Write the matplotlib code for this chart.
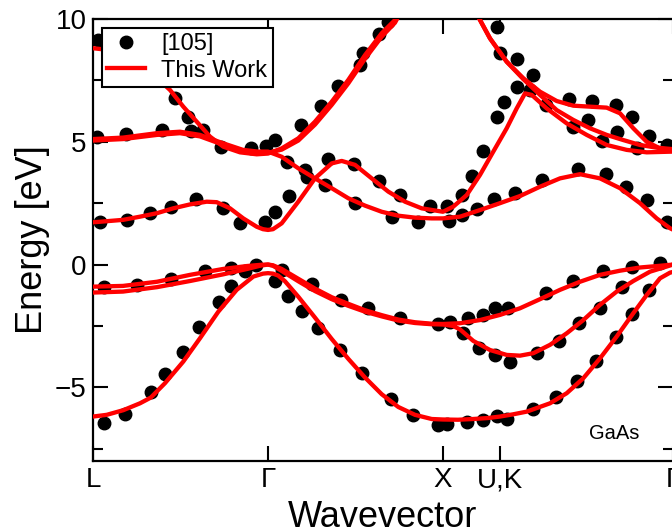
import matplotlib
matplotlib.use("Agg")
import matplotlib.pyplot as plt
from matplotlib.ticker import MultipleLocator, FixedLocator

plt.rcParams['font.family'] = ['Liberation Sans', 'DejaVu Sans']

# k-path positions of the high-symmetry points (L - Gamma - X - U,K - Gamma)
kpoint_pos = [0, 175, 350, 407, 580]
kpoint_labels = ['L', 'Γ', 'X', 'U,K', 'Γ']

# ---- calculated bands ("This Work"), energies in eV ----
so_k = [0, 13.7, 30.3, 47, 57.7, 72, 90.3, 107, 125.3, 143.7, 160.3, 170, 175, 180, 185.3, 192,
        205.3, 222, 238.7, 255.3, 272, 288.7, 305.3, 322, 338.7, 350, 365, 380, 395, 407, 420,
        433.7, 457, 473.7, 490.3, 507, 523.7, 540.3, 553.7, 567, 577, 580]
so_E = [-6.19, -6.12, -5.93, -5.65, -5.42, -4.83, -3.95, -3.00, -1.92, -1.03, -0.49, -0.37, -0.35,
        -0.37, -0.45, -0.68, -1.31, -2.16, -3.03, -3.84, -4.60, -5.28, -5.80, -6.12, -6.29, -6.31,
        -6.32, -6.29, -6.25, -6.19, -6.10, -5.99, -5.65, -5.24, -4.63, -3.82, -2.93, -1.98, -1.24,
        -0.56, -0.33, -0.30]

lh_k = [0, 30, 64, 97, 130, 154, 168, 175, 180, 188.7, 205.3, 222, 238.7, 255.3, 272, 288.7,
        305.3, 322, 338.7, 350, 360, 367, 380.3, 397, 413.7, 427, 440.3, 457, 473.7, 490.3, 507,
        523.7, 540.3, 557, 573.7, 580]
lh_E = [-1.14, -1.10, -0.92, -0.67, -0.40, -0.18, -0.04, 0.0, -0.05, -0.26, -0.68, -1.08, -1.41,
        -1.68, -1.92, -2.11, -2.28, -2.38, -2.43, -2.44, -2.50, -2.64, -3.11, -3.48, -3.68, -3.71,
        -3.61, -3.27, -2.80, -2.26, -1.64, -1.10, -0.67, -0.29, -0.08, 0.0]

hh_k = [0, 30, 64, 97, 130, 154, 168, 175, 180, 188.7, 205.3, 222, 238.7, 255.3, 272, 288.7,
        305.3, 322, 338.7, 350, 367, 387, 407, 427, 447, 467, 487, 507, 527, 547, 567, 580]
hh_E = [-0.90, -0.87, -0.70, -0.42, -0.18, -0.06, -0.01, 0.0, -0.03, -0.18, -0.58, -0.98, -1.33,
        -1.60, -1.86, -2.06, -2.24, -2.35, -2.41, -2.42, -2.39, -2.26, -2.05, -1.78, -1.41, -1.03,
        -0.70, -0.42, -0.25, -0.12, -0.05, 0.0]

c1_k = [0, 30, 47, 63.7, 80.3, 97, 113.7, 123.7, 137, 150.3, 163.7, 170, 175, 180, 188.7, 205.3,
        222, 238.7, 248.7, 262, 278.7, 295.3, 312, 328.7, 350, 360.3, 373.7, 387, 400.3, 413.7,
        423.7, 432, 438.7, 453.7, 473.7, 493.7, 513.7, 533.7, 553.7, 580]
c1_E = [1.72, 1.82, 1.95, 2.09, 2.29, 2.45, 2.56, 2.54, 2.29, 1.88, 1.54, 1.44, 1.41, 1.44, 1.68,
        2.56, 3.51, 4.12, 4.22, 4.06, 3.51, 2.97, 2.56, 2.29, 2.15, 2.36, 2.83, 3.65, 4.60, 5.55,
        6.36, 6.97, 6.91, 6.36, 5.75, 5.28, 4.87, 4.67, 4.57, 4.60]

c2_k = [0, 30, 64, 87, 107, 130, 150, 165, 175, 188.7, 205.3, 222, 238.7, 255.3, 272, 288.7,
        305.3, 322, 338.7, 350, 367, 387, 407, 427, 447, 467, 487, 507, 527, 547, 563.7, 577, 580]
c2_E = [5.11, 5.17, 5.35, 5.41, 5.28, 4.94, 4.67, 4.60, 4.60, 4.39, 3.92, 3.51, 3.11, 2.70, 2.40,
        2.15, 1.99, 1.91, 1.88, 1.88, 1.95, 2.22, 2.50, 2.79, 3.17, 3.51, 3.68, 3.51, 3.11, 2.50,
        1.88, 1.48, 1.42]

c3_k = [0, 30, 64, 87, 107, 130, 150, 165, 175, 188.7, 205.3, 222, 238.7, 255.3, 272, 288.7, 302, 308]
c3_E = [5.05, 5.11, 5.28, 5.35, 5.22, 4.88, 4.63, 4.56, 4.55, 4.68, 5.05, 5.70, 6.50, 7.38, 8.38,
        9.28, 9.85, 10.3]

c4_k = [0, 20, 40, 60, 77, 90.3, 103.7, 117, 130.3, 147, 163.7, 175, 188.7, 205.3, 222, 238.7,
        255.3, 272, 288.7, 302, 306]
c4_E = [8.81, 8.72, 8.35, 7.75, 7.11, 6.43, 5.82, 5.21, 4.80, 4.57, 4.49, 4.52, 4.73, 5.14, 5.82,
        6.63, 7.52, 8.53, 9.42, 9.96, 10.2]

c5_k = [383, 387, 397, 413.7, 430.3, 447, 463.7, 480.3, 497, 513.7, 527, 540.3, 553.7, 567, 580]
c5_E = [10.3, 9.96, 9.21, 8.26, 7.59, 7.04, 6.66, 6.47, 6.43, 6.39, 6.16, 5.55, 5.00, 4.73, 4.65]

c6_k = [383, 387, 397, 413.7, 430.3, 447, 463.7, 480.3, 497, 513.7, 530.3, 547, 563.7, 580]
c6_E = [10.3, 9.96, 9.21, 8.26, 7.55, 6.91, 6.29, 5.89, 5.55, 5.28, 5.07, 4.87, 4.76, 4.70]

bands = [(so_k, so_E), (lh_k, lh_E), (hh_k, hh_E), (c1_k, c1_E), (c2_k, c2_E),
         (c3_k, c3_E), (c4_k, c4_E), (c5_k, c5_E), (c6_k, c6_E)]

# ---- reference data [105] ----
ref_LG_k = [5, 82, 95.3, 4, 33, 68.7, 98, 110, 127.5, 158, 173,
            7, 33.7, 56.5, 78, 103, 130.3, 147.3, 171.5,
            11, 43.5, 77.5, 112, 138, 152, 162.5,
            10.5, 32, 58, 71.5, 90, 106.3, 125.6, 137.5]
ref_LG_E = [9.14, 6.79, 6.02, 5.21, 5.33, 5.50, 5.43, 5.48, 4.77, 4.74, 4.82,
            1.75, 1.82, 2.09, 2.36, 2.65, 2.29, 1.68, 1.74,
            -0.92, -0.82, -0.58, -0.27, -0.12, -0.28, 0.0,
            -6.46, -6.07, -5.21, -4.45, -3.56, -2.54, -1.51, -0.87]

ref_GX_k = [182, 193.5, 208, 228, 244.7, 267, 270.3, 286, 295.3,
            212, 213.7, 232, 262, 299.3, 325.3,
            235.3, 261.3, 286, 307, 336.5,
            182, 196,
            188.7, 218.7, 248, 275.3, 307, 345.3,
            182, 194.7, 208.7, 224.7, 247, 269.3, 298, 320.3, 345.3]
ref_GX_E = [5.07, 4.19, 5.70, 6.47, 7.28, 8.13, 8.60, 9.38, 9.86,
            3.85, 3.58, 3.24, 2.51, 1.95, 1.73,
            4.30, 4.08, 3.42, 2.83, 2.37,
            2.15, 2.81,
            -0.22, -0.80, -1.44, -1.75, -2.19, -2.42,
            -0.67, -1.27, -1.89, -2.57, -3.48, -4.43, -5.47, -6.12, -6.53]

ref_XG_k = [353.7, 356.3, 368.7, 368.7, 384.3, 379.3, 390.3, 404.3, 411.3, 423.7, 437, 401.3, 422,
            449.3, 485.3, 512.7, 532.7, 553.7, 574.3,
            403.5, 407, 423.7, 440, 453, 476.3, 480.3, 498.7, 495.3, 522.7, 523.7, 538.7, 509.3,
            543.7, 556.3, 573.7,
            357, 374.7, 390.3, 402, 415.3, 453, 479.7, 509.7, 538.7, 567,
            370.3, 386, 402, 417, 443.7, 466.3, 486.3, 507, 529.3,
            353.7, 373.7, 390.3, 404.3, 413.7, 439.7, 463, 483.7, 503, 523, 538.7, 556.3]
ref_XG_E = [2.39, 1.78, 2.83, 2.02, 2.25, 3.62, 4.63, 6.02, 6.61, 7.24, 7.11, 2.66, 2.90,
            3.46, 3.89, 3.68, 3.17, 2.64, 1.74,
            9.66, 8.62, 8.37, 7.72, 6.50, 6.76, 5.61, 6.66, 5.87, 6.48, 5.38, 6.01, 5.02,
            4.73, 5.25, 4.87,
            -2.32, -2.19, -2.05, -1.78, -1.78, -1.14, -0.67, -0.25, -0.09, 0.05,
            -2.80, -3.41, -3.68, -3.95, -3.61, -3.10, -2.39, -1.78, -0.90,
            -6.49, -6.40, -6.33, -6.16, -6.30, -5.89, -5.40, -4.73, -3.91, -2.93, -2.02, -1.03]

fig = plt.figure(figsize=(6.72, 5.29), dpi=100)
ax = fig.add_axes([93 / 672, 68 / 529, 580 / 672, 442 / 529])

ref_k = ref_LG_k + ref_GX_k + ref_XG_k
ref_E = ref_LG_E + ref_GX_E + ref_XG_E
ax.plot(ref_k, ref_E, 'o', color='black', ms=9, mec='black', zorder=2, label='[105]')

for i, (k, E) in enumerate(bands):
    ax.plot(k, E, color='#ff0000', lw=3.1, zorder=3,
            label='This Work' if i == 0 else None)

ax.set_xlim(0, 580)
ax.set_ylim(-8, 10)

ax.xaxis.set_major_locator(FixedLocator(kpoint_pos))
ax.set_xticklabels(kpoint_labels)
ax.yaxis.set_major_locator(MultipleLocator(5))
ax.yaxis.set_minor_locator(MultipleLocator(2.5))

ax.tick_params(which='both', direction='in', top=True, right=True, width=1.5,
               labelsize=20, pad=4.5)
ax.tick_params(which='major', length=11)
ax.tick_params(which='minor', length=7.2)
for s in ax.spines.values():
    s.set_linewidth(1.6)

ax.set_ylabel('Energy [eV]', fontsize=26)
ax.yaxis.set_label_coords(-0.0745, 0.5)
ax.set_xlabel('Wavevector', fontsize=26, va='baseline')
ax.xaxis.set_label_coords(0.5, (461 - 527) / 442)

ax.text(0.898, 0.063, 'GaAs', transform=ax.transAxes, fontsize=14.5,
        ha='center', va='center')

leg = ax.legend(loc='upper left', bbox_to_anchor=(0.0155, 0.98), borderaxespad=0,
                fontsize=17, frameon=True, fancybox=False, framealpha=1,
                edgecolor='black', numpoints=1, handlelength=1.6, handletextpad=0.7,
                borderpad=0.22, labelspacing=0.2)
leg.get_frame().set_linewidth(1.5)
leg.set_zorder(5)

fig.savefig('out.png', dpi=100)
